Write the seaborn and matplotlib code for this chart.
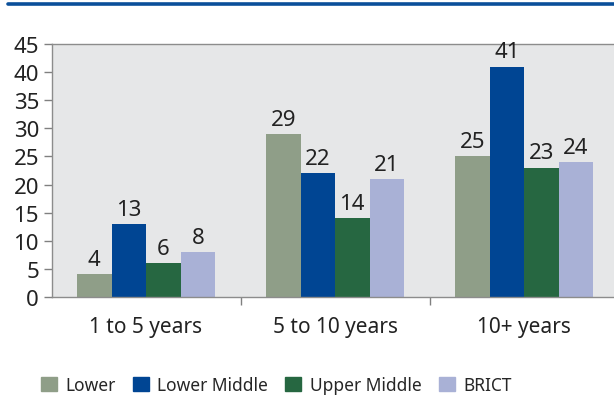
import pandas as pd
import matplotlib.pyplot as plt
import seaborn as sns
from matplotlib.lines import Line2D

# Chart data
periods = ["1 to 5 years", "5 to 10 years", "10+ years"]
groups = ["Lower", "Lower Middle", "Upper Middle", "BRICT"]
lower = [4, 29, 25]
lower_middle = [13, 22, 41]
upper_middle = [6, 14, 23]
brict = [8, 21, 24]
colors = ["#8f9e88", "#004593", "#266741", "#a9b1d6"]
y_ticks = [0, 5, 10, 15, 20, 25, 30, 35, 40, 45]


def build_frame():
    rows = []
    for name, vals in zip(groups, [lower, lower_middle, upper_middle, brict]):
        for p, v in zip(periods, vals):
            rows.append({"Period": p, "Group": name, "Value": v})
    return pd.DataFrame(rows)


def draw(df):
    sns.set_style("white")
    plt.rcParams["font.family"] = ["Noto Sans", "DejaVu Sans"]
    fig = plt.figure(figsize=(6.14, 4.02), dpi=100)
    ax = fig.add_axes([0.0839, 0.259, 0.9235, 0.629])
    ax.set_facecolor("#e6e7e8")

    sns.barplot(data=df, x="Period", y="Value", hue="Group", order=periods,
                hue_order=groups, palette=colors, width=0.73, saturation=1,
                edgecolor="none", ax=ax, legend=False)

    for cont in ax.containers:
        ax.bar_label(cont, fontsize=16, padding=3, color="#222222")

    ax.set_xlim(-0.5, 2.5)
    ax.set_ylim(0, 45)
    ax.set_yticks(y_ticks)
    ax.tick_params(axis="y", labelsize=16, length=6, width=1, color="#808080",
                   direction="out", left=True, pad=3, labelcolor="#222222")
    ax.set_xticks(range(len(periods)))
    ax.set_xticklabels(periods)
    ax.tick_params(axis="x", which="major", length=0, labelsize=15, pad=14,
                   labelcolor="#222222")
    ax.set_xticks([0.5, 1.5], minor=True)
    ax.tick_params(axis="x", which="minor", length=6, width=1,
                   color="#808080", direction="out", bottom=True)
    ax.set_xlabel("")
    ax.set_ylabel("")
    for side in ["left", "top", "bottom", "right"]:
        ax.spines[side].set_color("#8c8c8c")
        ax.spines[side].set_linewidth(1)

    # blue rule at top of figure
    fig.add_artist(Line2D([0.013, 1.0], [0.987, 0.987], color="#0a4f9a",
                          linewidth=2.6, transform=fig.transFigure))

    handles = [plt.Rectangle((0, 0), 1, 1, color=c) for c in colors]
    fig.legend(handles, groups, loc="center", bbox_to_anchor=(0.45, 0.04),
               ncol=4, frameon=False, fontsize=12.5, handlelength=0.9,
               handleheight=0.9, columnspacing=1.0, handletextpad=0.5,
               borderaxespad=0, borderpad=0)
    fig.savefig("out.png", dpi=100)


def main():
    df = build_frame()
    draw(df)


if __name__ == "__main__":
    main()
